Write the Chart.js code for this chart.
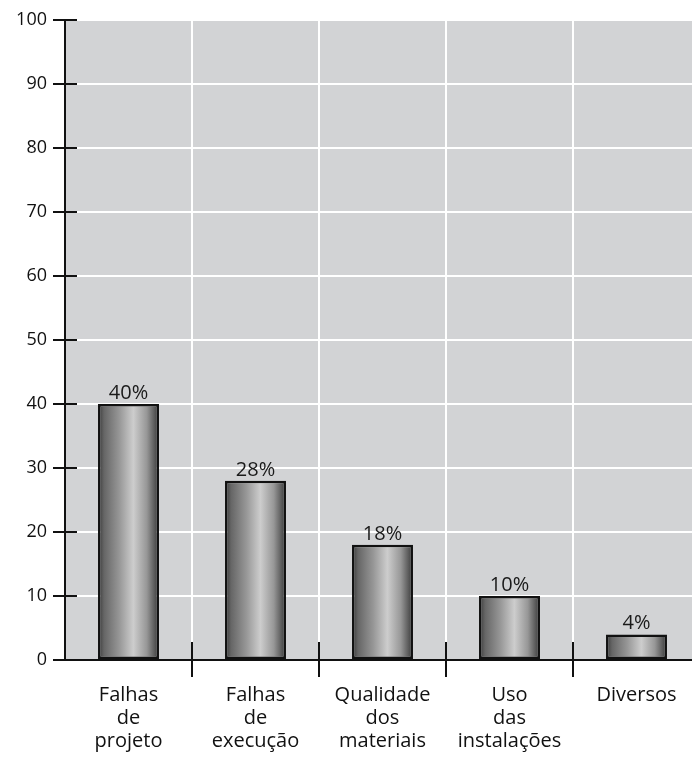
<!DOCTYPE html>
<html>
<head>
<meta charset="utf-8">
<script src="https://cdn.jsdelivr.net/npm/chart.js@4"></script>
<style>
  html, body { margin: 0; padding: 0; background: #fff; overflow: hidden; }
  canvas { display: block; }
</style>
</head>
<body>
<canvas id="c" width="700" height="757"></canvas>
<script>
// Causes of building pathologies (%)
const categories = [
  ['Falhas', 'de', 'projeto'],
  ['Falhas', 'de', 'execução'],
  ['Qualidade', 'dos', 'materiais'],
  ['Uso', 'das', 'instalações'],
  ['Diversos']
];
const values = [40, 28, 18, 10, 4];
const yTicks = { min: 0, max: 100, step: 10 };

const FONT = '"Open Sans", "DejaVu Sans", sans-serif';
const BAR_PCT = 0.48;

// Horizontal shading that gives each bar a cylindrical look
function barGradient(c) {
  const chart = c.chart;
  const xs = chart.scales.x;
  if (!xs || !chart.chartArea) return '#999';
  const cx = xs.getPixelForValue(c.dataIndex);
  const w = (chart.chartArea.right - chart.chartArea.left) / categories.length * BAR_PCT;
  const g = chart.ctx.createLinearGradient(cx - w / 2, 0, cx + w / 2, 0);
  g.addColorStop(0, '#383838');
  g.addColorStop(0.1, '#666666');
  g.addColorStop(0.35, '#979797');
  g.addColorStop(0.58, '#cdcdcd');
  g.addColorStop(0.8, '#979797');
  g.addColorStop(0.94, '#545454');
  g.addColorStop(1, '#333333');
  return g;
}

const plotBackground = {
  id: 'plotBackground',
  beforeDraw(chart) {
    const { ctx, chartArea: a } = chart;
    ctx.save();
    ctx.fillStyle = '#d2d3d5';
    ctx.fillRect(a.left, a.top, a.right - a.left, a.bottom - a.top);
    ctx.restore();
  }
};

// Black axis lines and tick marks that cross the axes
const axisMarks = {
  id: 'axisMarks',
  afterDatasetsDraw(chart) {
    const { ctx, chartArea: a, scales } = chart;
    const ys = scales.y, xs = scales.x;
    ctx.save();
    ctx.strokeStyle = '#111';
    ctx.lineWidth = 2;
    ctx.beginPath();
    // y axis
    ctx.moveTo(a.left, a.top);
    ctx.lineTo(a.left, a.bottom);
    // y tick marks
    ys.ticks.forEach((t, i) => {
      const y = Math.round(ys.getPixelForTick(i));
      ctx.moveTo(a.left - 12, y);
      ctx.lineTo(a.left + 12, y);
    });
    // x axis
    ctx.moveTo(a.left - 12, a.bottom);
    ctx.lineTo(a.right, a.bottom);
    // category separators
    for (let i = 1; i < categories.length; i++) {
      const x = Math.round((xs.getPixelForValue(i - 1) + xs.getPixelForValue(i)) / 2);
      ctx.moveTo(x, a.bottom - 18);
      ctx.lineTo(x, a.bottom + 17);
    }
    ctx.stroke();
    ctx.restore();
  }
};

const valueLabels = {
  id: 'valueLabels',
  afterDatasetsDraw(chart) {
    const { ctx } = chart;
    const meta = chart.getDatasetMeta(0);
    ctx.save();
    ctx.font = '20px ' + FONT;
    ctx.fillStyle = '#1a1a1a';
    ctx.textAlign = 'center';
    ctx.textBaseline = 'bottom';
    meta.data.forEach((bar, i) => {
      ctx.fillText(values[i] + '%', bar.x, bar.y - 1);
    });
    ctx.restore();
  }
};

new Chart(document.getElementById('c'), {
  type: 'bar',
  data: {
    labels: categories,
    datasets: [{
      data: values,
      backgroundColor: barGradient,
      borderColor: '#111',
      borderWidth: 2.5,
      borderSkipped: false,
      categoryPercentage: 1,
      barPercentage: BAR_PCT
    }]
  },
  options: {
    responsive: false,
    animation: false,
    layout: { padding: { top: 20, left: 0, right: 0, bottom: 0 } },
    plugins: { legend: { display: false }, tooltip: { enabled: false } },
    scales: {
      x: {
        offset: true,
        grid: { color: '#ffffff', lineWidth: 2, drawTicks: false, offset: true },
        border: { display: false },
        ticks: {
          color: '#111',
          padding: 24,
          font: { family: FONT, size: 20, lineHeight: 1.15 },
          maxRotation: 0,
          autoSkip: false
        },
        afterFit(s) { s.height = 97; s.paddingLeft = 0; s.paddingRight = 0; }
      },
      y: {
        min: yTicks.min,
        max: yTicks.max,
        grid: { color: '#ffffff', lineWidth: 2, drawTicks: false },
        border: { display: false },
        ticks: {
          stepSize: yTicks.step,
          color: '#111',
          padding: 18,
          font: { family: FONT, size: 18 }
        },
        afterFit(s) { s.width = 65; s.paddingTop = 0; s.paddingBottom = 0; }
      }
    }
  },
  plugins: [plotBackground, axisMarks, valueLabels]
});
</script>
</body>
</html>
